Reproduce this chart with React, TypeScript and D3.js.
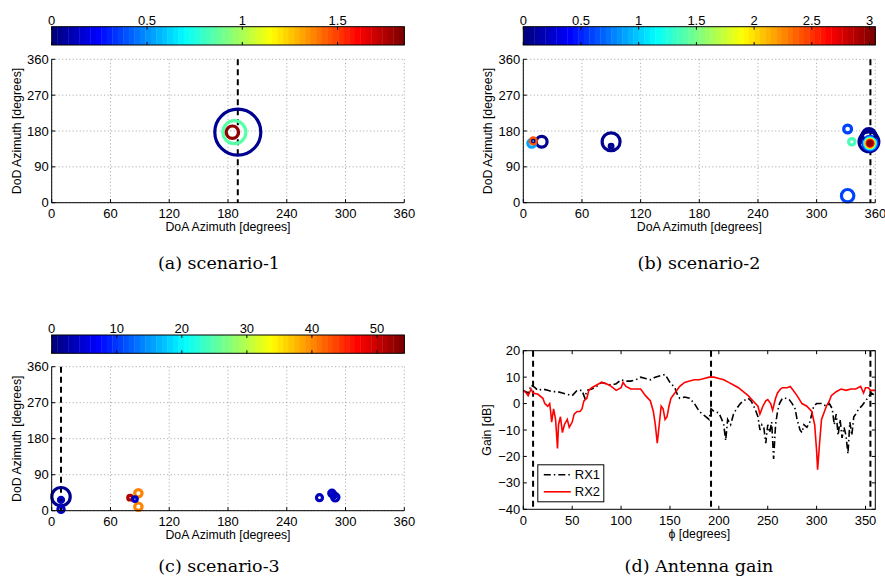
import { useEffect, useRef } from 'react';
import * as d3 from 'd3';

// scenario-1: DoA, DoD [deg], delay (colour) and relative power (ring size)
const s1Doa = [190, 186.5, 184.5];
const s1Dod = [177, 177, 177];
const s1Delay = [0.05, 0.84, 1.8];
const s1Power = [1.0, 0.5, 0.27];
const s1Ticks = [0, 0.5, 1, 1.5];
const s1Max = 1.85;
const s1Los = 190;

// scenario-2
const s2Doa = [8.6, 10.2, 10.2, 18.8, 89.8, 89.8, 331.7, 336, 331.7, 353.5, 353.5, 353.5, 354.6, 354.6, 354.6, 354.6, 354.6];
const s2Dod = [149, 155, 155, 153, 153, 142, 185, 153, 17.5, 153, 162, 170, 149, 149, 149, 149, 149];
const s2Delay = [0.86, 2.43, 0.05, 0.05, 0.05, 0.05, 0.61, 1.37, 0.61, 0.05, 0.05, 0.05, 0.6, 1.1, 2.0, 2.6, 3.0];
const s2Power = [0.17, 0.13, 0.03, 0.235, 0.39, 0.08, 0.17, 0.14, 0.27, 0.43, 0.35, 0.28, 0.3, 0.24, 0.18, 0.13, 0.08];
const s2Ticks = [0, 0.5, 1, 1.5, 2, 2.5, 3];
const s2Max = 3.05;
const s2Los = 355;

// scenario-3
const s3Doa = [9.5, 9.5, 9.5, 80, 85, 88.5, 88.5, 273.4, 286.1, 289.5, 288];
const s3Dod = [35, 27, 3.5, 32.5, 29, 43.5, 10, 32.5, 43.5, 33.5, 39];
const s3Delay = [1.5, 4, 4, 51.5, 4, 40, 40, 4, 4, 4, 4];
const s3Power = [0.4, 0.11, 0.135, 0.1, 0.1, 0.16, 0.16, 0.13, 0.14, 0.16, 0.12];
const s3Ticks = [0, 10, 20, 30, 40, 50];
const s3Max = 54.2;
const s3Los = 9.5;

const azTicksX = [0, 60, 120, 180, 240, 300, 360];
const azTicksY = [0, 90, 180, 270, 360];

// antenna gain [phi deg, dB]
const rx1 = [
  [0, 5], [5, 4], [8, 7], [12, 6], [15, 5], [20, 5.5], [25, 5], [30, 4.5], [35, 4.5], [40, 4],
  [45, 3.5], [50, 3], [55, 5], [60, 5], [63, 2], [65, 5], [70, 5.5], [75, 6.5], [80, 8], [85, 7.5],
  [90, 7], [95, 7.5], [100, 9], [105, 8.5], [110, 8.5], [115, 9], [120, 10], [125, 9.5], [130, 9],
  [135, 10], [140, 10.5], [145, 11], [150, 8], [155, 6], [158, 3], [160, 2], [165, 2.5], [170, 2],
  [175, 0], [180, -3], [185, -4.5], [190, -6], [192, -2], [195, -3], [200, -3.5], [203, -6],
  [205, -8], [207, -14], [209, -6], [212, -8], [215, -4], [218, -2], [222, 0], [225, 1], [230, 2],
  [233, 1], [237, -2], [240, -5], [242, -10], [244, -8], [246, -9], [248, -15], [250, -8],
  [252, -11], [254, -7], [256, -21], [258, -8], [260, -3], [262, 0], [265, 2], [268, 2],
  [272, 1.5], [275, 0], [278, -2], [280, -6], [283, -10], [285, -11], [287, -8], [290, -9],
  [293, -7], [297, -1], [300, 0], [305, 0], [310, -1], [313, 0], [316, -2], [318, -8], [320, -4],
  [322, -12], [324, -6], [326, -13], [328, -9], [330, -12], [332, -19], [334, -7], [336, -12],
  [338, -5], [340, -4], [343, -2], [346, -1], [350, 1], [353, 2.5], [356, 4], [360, 3],
];
const rx2 = [
  [0, 5], [3, 4], [5, 3], [8, 5.5], [10, 4], [15, 3.5], [20, 2], [22, 0], [25, -1], [27, 0],
  [28, -3], [29, -7], [31, -2], [33, -6], [35, -17], [36, -8], [38, -5], [40, -11], [42, -8],
  [45, -6], [47, -9], [50, -7], [52, -4], [55, -3], [58, -3], [60, -2], [62, 1], [65, 2], [67, 5],
  [70, 6], [75, 7], [80, 8], [85, 7.5], [90, 6.5], [95, 5], [100, 6], [102, 8], [105, 6.5],
  [110, 5.5], [115, 5.5], [120, 5.5], [125, 3], [130, 1], [133, -3], [135, -8], [137, -15],
  [139, -8], [141, -1], [143, -2], [145, -6], [147, -5], [149, -1], [151, 2], [155, 4], [160, 6.5],
  [165, 8], [170, 8.5], [175, 9], [180, 9], [185, 9.5], [190, 10], [195, 10], [200, 9.5], [205, 9],
  [210, 8], [215, 7], [220, 6], [225, 4.5], [230, 3], [235, 1], [240, -1], [242, -4], [245, -1],
  [248, 1], [250, 1.5], [253, 0], [255, -2.5], [258, 2], [260, 4], [263, 5.5], [265, 6], [270, 6],
  [273, 6.5], [275, 5.5], [280, 3], [285, 0], [290, -1], [295, -3], [298, -8], [300, -18],
  [301, -25], [303, -15], [305, -6], [308, -3], [310, -1], [313, 1], [315, 3], [320, 4.5],
  [325, 5.5], [330, 5], [335, 5.5], [340, 5.5], [345, 6.5], [348, 4], [350, 6], [353, 6], [355, 5], [360, 5],
];
const gainLos = [10, 192, 355];
const gainTicksX = [0, 50, 100, 150, 200, 250, 300, 350];
const gainTicksY = [-40, -30, -20, -10, 0, 10, 20];

const SANS = 'Liberation Sans, Arial, sans-serif';
const SERIF = 'DejaVu Serif, serif';

function jet(t) {
  const q = Math.max(0, Math.min(63, Math.floor(t * 64))) / 63;
  const c = v => Math.round(255 * Math.max(0, Math.min(1, v)));
  return `rgb(${c(1.5 - Math.abs(4 * q - 3))},${c(1.5 - Math.abs(4 * q - 2))},${c(1.5 - Math.abs(4 * q - 1))})`;
}

const fmt = v => (v < 0 ? '\u2212' + Math.abs(v) : String(v));

function drawScatter(root, p) {
  const x = d3.scaleLinear().domain([0, 360]).range([p.x0, p.x1]);
  const y = d3.scaleLinear().domain([0, 360]).range([p.y1, p.y0]);
  const c = d3.scaleLinear().domain([0, p.cMax]).range([p.x0, p.x1]);
  const r = d3.scaleLinear().domain([0, 1]).range([0, 23]);
  const g = root.append('g');

  // colorbar
  const n = 64;
  g.selectAll('rect.cb')
    .data(d3.range(n))
    .join('rect')
    .attr('x', i => c((p.cMax * i) / n))
    .attr('width', i => c((p.cMax * (i + 1)) / n) - c((p.cMax * i) / n) + 0.4)
    .attr('y', p.cy0)
    .attr('height', p.cy1 - p.cy0)
    .attr('fill', i => jet(i / n));
  g.append('rect')
    .attr('x', p.x0).attr('y', p.cy0)
    .attr('width', p.x1 - p.x0).attr('height', p.cy1 - p.cy0)
    .attr('fill', 'none').attr('stroke', '#000');
  p.cTicks.forEach(t => {
    g.append('line').attr('x1', c(t)).attr('x2', c(t)).attr('y1', p.cy0).attr('y2', p.cy0 + 3).attr('stroke', '#000');
    g.append('line').attr('x1', c(t)).attr('x2', c(t)).attr('y1', p.cy1).attr('y2', p.cy1 - 3).attr('stroke', '#000');
    g.append('text').attr('x', c(t)).attr('y', p.cy0 - 2).attr('text-anchor', 'middle')
      .attr('font-family', SANS).attr('font-size', 13).text(String(t));
  });

  // grid
  azTicksX.forEach(t => {
    g.append('line').attr('x1', x(t)).attr('x2', x(t)).attr('y1', p.y0).attr('y2', p.y1)
      .attr('stroke', '#888').attr('stroke-width', 0.8).attr('stroke-dasharray', '1,2.5');
  });
  azTicksY.forEach(t => {
    g.append('line').attr('x1', p.x0).attr('x2', p.x1).attr('y1', y(t)).attr('y2', y(t))
      .attr('stroke', '#888').attr('stroke-width', 0.8).attr('stroke-dasharray', '1,2.5');
  });

  // LOS
  g.append('line').attr('x1', x(p.los)).attr('x2', x(p.los)).attr('y1', p.y0).attr('y2', p.y1)
    .attr('stroke', '#000').attr('stroke-width', 2).attr('stroke-dasharray', '6,4');

  // rings
  const idx = d3.range(p.doa.length).sort((a, b) => p.power[b] - p.power[a]);
  g.selectAll('circle.ring')
    .data(idx)
    .join('circle')
    .attr('cx', i => x(p.doa[i]))
    .attr('cy', i => y(p.dod[i]))
    .attr('r', i => r(p.power[i]))
    .attr('fill', 'none')
    .attr('stroke', i => jet(p.delay[i] / p.cMax))
    .attr('stroke-width', 3.2);

  // axes
  g.append('line').attr('x1', p.x0).attr('x2', p.x0).attr('y1', p.y0).attr('y2', p.y1).attr('stroke', '#000');
  g.append('line').attr('x1', p.x0).attr('x2', p.x1).attr('y1', p.y1).attr('y2', p.y1).attr('stroke', '#000');
  azTicksX.forEach(t => {
    g.append('line').attr('x1', x(t)).attr('x2', x(t)).attr('y1', p.y1).attr('y2', p.y1 - 3.5).attr('stroke', '#000');
    g.append('text').attr('x', x(t)).attr('y', p.y1 + 15).attr('text-anchor', 'middle')
      .attr('font-family', SANS).attr('font-size', 13).text(String(t));
  });
  azTicksY.forEach(t => {
    g.append('line').attr('x1', p.x0).attr('x2', p.x0 + 3.5).attr('y1', y(t)).attr('y2', y(t)).attr('stroke', '#000');
    g.append('text').attr('x', p.x0 - 3).attr('y', y(t) + 4.5).attr('text-anchor', 'end')
      .attr('font-family', SANS).attr('font-size', 13).text(String(t));
  });
  g.append('text').attr('x', (p.x0 + p.x1) / 2).attr('y', p.y1 + 28.5).attr('text-anchor', 'middle')
    .attr('font-family', SANS).attr('font-size', 12.3).text('DoA Azimuth [degrees]');
  g.append('text')
    .attr('transform', `translate(${p.x0 - 31},${(p.y0 + p.y1) / 2}) rotate(-90)`)
    .attr('text-anchor', 'middle').attr('font-family', SANS).attr('font-size', 12.3)
    .text('DoD Azimuth [degrees]');
  g.append('text').attr('x', p.capX).attr('y', p.capY).attr('text-anchor', 'middle')
    .attr('font-family', SERIF).attr('font-size', 17.5).text(p.caption);
}

function drawGain(root, p) {
  const x = d3.scaleLinear().domain([0, 360]).range([p.x0, p.x1]);
  const y = d3.scaleLinear().domain([-40, 20]).range([p.y1, p.y0]);
  const g = root.append('g');
  const line = d3.line().x(d => x(d[0])).y(d => y(d[1]));

  g.append('rect').attr('x', p.x0).attr('y', p.y0).attr('width', p.x1 - p.x0).attr('height', p.y1 - p.y0)
    .attr('fill', '#fff');

  gainLos.forEach(v => {
    g.append('line').attr('x1', x(v)).attr('x2', x(v)).attr('y1', p.y0).attr('y2', p.y1)
      .attr('stroke', '#000').attr('stroke-width', 2).attr('stroke-dasharray', '6,4');
  });

  g.append('path').datum(rx1).attr('d', line).attr('fill', 'none').attr('stroke', '#000')
    .attr('stroke-width', 1.6).attr('stroke-dasharray', '7,3,1.5,3');
  g.append('path').datum(rx2).attr('d', line).attr('fill', 'none').attr('stroke', '#ff0000')
    .attr('stroke-width', 1.6);

  g.append('rect').attr('x', p.x0).attr('y', p.y0).attr('width', p.x1 - p.x0).attr('height', p.y1 - p.y0)
    .attr('fill', 'none').attr('stroke', '#000');
  gainTicksX.forEach(t => {
    g.append('line').attr('x1', x(t)).attr('x2', x(t)).attr('y1', p.y1).attr('y2', p.y1 - 3.5).attr('stroke', '#000');
    g.append('line').attr('x1', x(t)).attr('x2', x(t)).attr('y1', p.y0).attr('y2', p.y0 + 3.5).attr('stroke', '#000');
    g.append('text').attr('x', x(t)).attr('y', p.y1 + 15.5).attr('text-anchor', 'middle')
      .attr('font-family', SANS).attr('font-size', 13).text(fmt(t));
  });
  gainTicksY.forEach(t => {
    g.append('line').attr('x1', p.x0).attr('x2', p.x0 + 3.5).attr('y1', y(t)).attr('y2', y(t)).attr('stroke', '#000');
    g.append('line').attr('x1', p.x1).attr('x2', p.x1 - 3.5).attr('y1', y(t)).attr('y2', y(t)).attr('stroke', '#000');
    g.append('text').attr('x', p.x0 - 3).attr('y', y(t) + 4.5).attr('text-anchor', 'end')
      .attr('font-family', SANS).attr('font-size', 13).text(fmt(t));
  });
  g.append('text').attr('x', (p.x0 + p.x1) / 2).attr('y', p.y1 + 28.5).attr('text-anchor', 'middle')
    .attr('font-family', SANS).attr('font-size', 12.3).text('\u03D5 [degrees]');
  g.append('text')
    .attr('transform', `translate(${p.x0 - 32},${(p.y0 + p.y1) / 2}) rotate(-90)`)
    .attr('text-anchor', 'middle').attr('font-family', SANS).attr('font-size', 12.3)
    .text('Gain [dB]');

  // legend
  const lg = g.append('g').attr('transform', `translate(${p.x0 + 14.5},${p.y1 - 44.5})`);
  lg.append('rect').attr('width', 66).attr('height', 37).attr('fill', '#fff').attr('stroke', '#000');
  lg.append('line').attr('x1', 6).attr('x2', 33).attr('y1', 10).attr('y2', 10)
    .attr('stroke', '#000').attr('stroke-width', 1.6).attr('stroke-dasharray', '7,3,1.5,3');
  lg.append('line').attr('x1', 6).attr('x2', 33).attr('y1', 27).attr('y2', 27)
    .attr('stroke', '#ff0000').attr('stroke-width', 1.6);
  lg.append('text').attr('x', 37).attr('y', 14.5).attr('font-family', SANS).attr('font-size', 13).text('RX1');
  lg.append('text').attr('x', 37).attr('y', 31.5).attr('font-family', SANS).attr('font-size', 13).text('RX2');

  g.append('text').attr('x', p.capX).attr('y', p.capY).attr('text-anchor', 'middle')
    .attr('font-family', SERIF).attr('font-size', 17.5).text(p.caption);
}

export default function App() {
  const ref = useRef(null);

  useEffect(() => {
    const svg = d3.select(ref.current);
    svg.selectAll('*').remove();
    svg.append('rect').attr('width', 885).attr('height', 579).attr('fill', '#fff');

    drawScatter(svg, {
      x0: 51.7, x1: 404.3, y0: 59.3, y1: 202.7, cy0: 26.7, cy1: 45,
      doa: s1Doa, dod: s1Dod, delay: s1Delay, power: s1Power,
      cTicks: s1Ticks, cMax: s1Max, los: s1Los,
      caption: '(a) scenario-1', capX: 219, capY: 269,
    });
    drawScatter(svg, {
      x0: 523.3, x1: 875.3, y0: 59.3, y1: 202.7, cy0: 26.7, cy1: 45,
      doa: s2Doa, dod: s2Dod, delay: s2Delay, power: s2Power,
      cTicks: s2Ticks, cMax: s2Max, los: s2Los,
      caption: '(b) scenario-2', capX: 699, capY: 269,
    });
    drawScatter(svg, {
      x0: 51.7, x1: 404.3, y0: 366.7, y1: 510.7, cy0: 335, cy1: 353.3,
      doa: s3Doa, dod: s3Dod, delay: s3Delay, power: s3Power,
      cTicks: s3Ticks, cMax: s3Max, los: s3Los,
      caption: '(c) scenario-3', capX: 219, capY: 572,
    });
    drawGain(svg, {
      x0: 523.3, x1: 875.3, y0: 350.7, y1: 509.3,
      caption: '(d) Antenna gain', capX: 699, capY: 572,
    });
  }, []);

  return (
    <>
      <style>{'body{margin:0}'}</style>
      <svg ref={ref} width={885} height={579} style={{ display: 'block' }} />
    </>
  );
}
